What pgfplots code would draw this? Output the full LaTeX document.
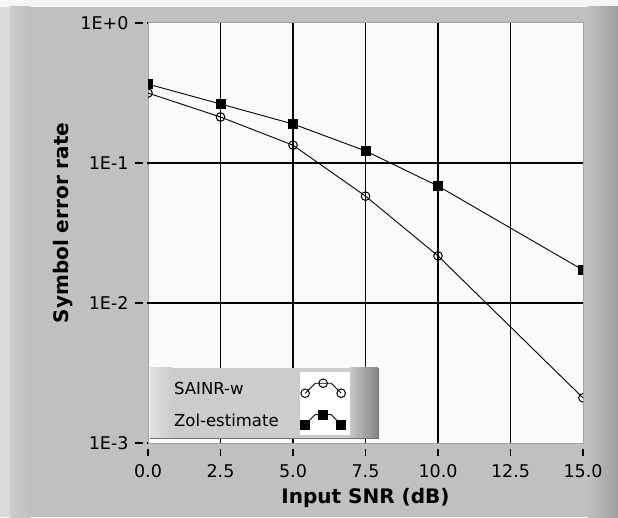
\documentclass[border=0pt]{standalone}
\usepackage{fontspec}
\setmainfont{DejaVu Sans}
\usepackage{pgfplots}
\pgfplotsset{compat=1.18}

\definecolor{panel}{HTML}{C0C0C0}
\definecolor{plotbg}{HTML}{FAFAFA}
\definecolor{frame}{HTML}{A0A0A0}

\newcommand\tickfont{\fontsize{17.5}{20}\selectfont}

\begin{document}
\begin{tikzpicture}[x=1pt,y=1pt]
\useasboundingbox (0,0) rectangle (618,517);
% LabVIEW style panel
\fill[panel] (0,0) rectangle (618,517);
\fill[white!96!black] (0,510) rectangle (618,517);
\fill[white!85!black] (0,0) rectangle (10,510);
\shade[left color=white!80!black, right color=panel] (10,0) rectangle (30,510);
\shade[left color=panel, right color=white!62!black] (588,0) rectangle (618,510);

\begin{axis}[
  at={(148pt,74pt)}, anchor=south west,
  scale only axis, width=435pt, height=420pt,
  xmin=0, xmax=15, ymin=1e-3, ymax=1,
  ymode=log,
  axis background/.style={fill=plotbg},
  axis line style={draw=frame, line width=1pt},
  xtick={0,2.5,5,7.5,10,12.5,15},
  xticklabels={0.0,2.5,5.0,7.5,10.0,12.5,15.0},
  ytick={1e-3,1e-2,1e-1,1},
  yticklabels={1E-3,1E-2,1E-1,1E+0},
  minor tick num=0, yminorticks=false,
  tick align=outside, major tick length=13pt,
  xtick pos=bottom, ytick pos=left,
  every tick/.style={black, line width=1.2pt},
  tick label style={font=\tickfont},
  xticklabel style={font=\tickfont, yshift=-5pt},
  yticklabel style={font=\tickfont, xshift=-3pt},
  extra x ticks={2.5,5,7.5,10,12.5},
  extra y ticks={1e-2,1e-1},
  extra x tick labels={}, extra y tick labels={},
  extra tick style={grid=major, major tick length=0pt,
    major grid style={black, line width=1.3pt}},
  xlabel={Input SNR (dB)},
  ylabel={Symbol error rate},
  label style={font=\bfseries\fontsize{20}{24}\selectfont},
  x label style={at={(axis description cs:0.5,-0.13)}, anchor=center},
  y label style={at={(axis description cs:-0.195,0.524)}, anchor=center},
  clip marker paths=true,
  legend plot pos=right,
  legend cell align=left,
  legend style={at={(rel axis cs:0.055,0.153)}, anchor=north west,
    draw=none, fill=none, inner sep=0pt,
    font=\fontsize{16.5}{19}\selectfont, row sep=12pt,
    /tikz/every odd column/.append style={column sep=20pt}},
  legend image code/.code={
    \draw[mark repeat=2, mark phase=1, #1]
      plot coordinates {(0pt,-4pt) (10pt,6pt) (18pt,6pt) (26pt,6pt) (36pt,-4pt)};
  },
]
% legend panel
\fill[white!80!black] (rel axis cs:0.0046,0.0119) rectangle (rel axis cs:0.5287,0.1786);
\shade[left color=white!88!black, right color=white!80!black]
  (rel axis cs:0.0046,0.0119) rectangle (rel axis cs:0.055,0.1786);
\fill[white] (rel axis cs:0.3494,0.0190) rectangle (rel axis cs:0.4644,0.1690);
\shade[left color=white!78!black, right color=white!52!black]
  (rel axis cs:0.4644,0.0119) rectangle (rel axis cs:0.5287,0.1786);
\draw[white!45!black, line width=0.8pt] (rel axis cs:0.0046,0.0119) -- (rel axis cs:0.5287,0.0119) -- (rel axis cs:0.5287,0.1786);

\addplot[black, line width=0.9pt, mark=o, mark size=4.3pt,
  mark options={fill=white, line width=1pt}]
  coordinates {(0,0.316) (2.5,0.213) (5,0.134) (7.5,0.058) (10,0.0217) (15,0.0021)};
\addlegendentry{SAINR-w}
\addplot[black, line width=0.9pt, mark=square*, mark size=4.5pt,
  mark options={fill=black}]
  coordinates {(0,0.366) (2.5,0.264) (5,0.190) (7.5,0.122) (10,0.0685) (15,0.0172)};
\addlegendentry{Zol-estimate}
\end{axis}
% gap between tick marks and the plot frame
\fill[panel] (142.5,60) rectangle (147.4,495);
\fill[panel] (140,68.5) rectangle (590,73.4);
\end{tikzpicture}
\end{document}
